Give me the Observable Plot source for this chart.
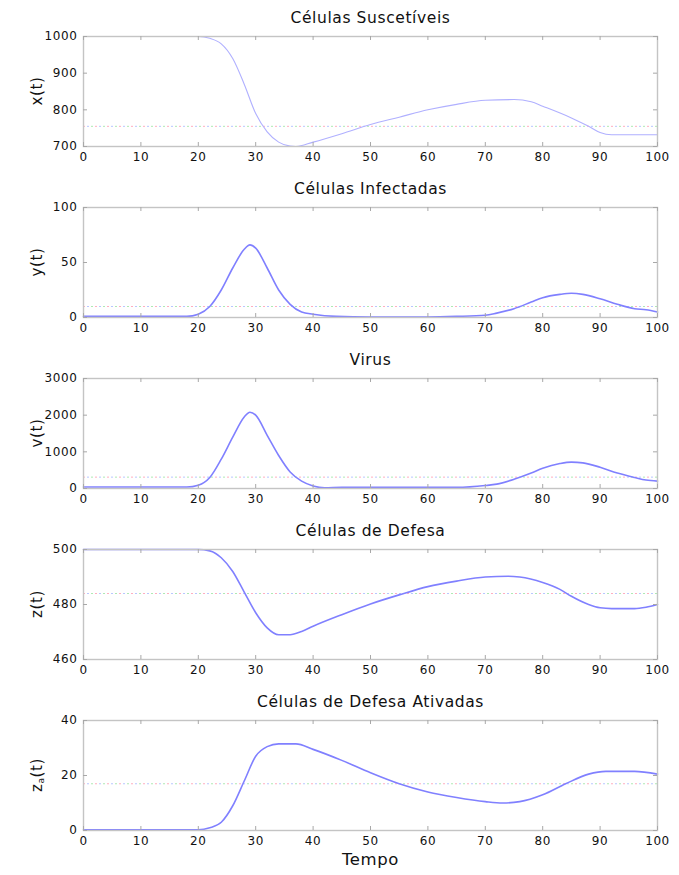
<!DOCTYPE html>
<html>
<head>
<meta charset="utf-8">
<script src="https://cdn.jsdelivr.net/npm/d3@7"></script>
<script src="https://cdn.jsdelivr.net/npm/@observablehq/plot@0.6"></script>
<style>
  html, body { margin: 0; padding: 0; background: #fff; }
  #chart svg { display: block; }
</style>
</head>
<body>
<div id="chart"></div>
<script>
// ---- Data ----
const titles = ["Células Suscetíveis", "Células Infectadas", "Virus", "Células de Defesa", "Células de Defesa Ativadas"];
const xLabel = "Tempo";
const xTicks = [0, 10, 20, 30, 40, 50, 60, 70, 80, 90, 100];

const tX = [0, 10, 20, 22, 24, 26, 28, 30, 32, 34, 36, 37, 40, 45, 50, 55, 60, 65, 70, 75, 78, 80, 85, 88, 90, 92, 100];
const xVals = [1000, 1000, 1000, 995, 980, 940, 870, 790, 740, 712, 701, 700, 712, 735, 760, 780, 800, 815, 826, 828, 822, 810, 778, 755, 738, 732, 732];
const xTicksY = [700, 800, 900, 1000];
const xEq = 755;

const tY = [0, 10, 18, 20, 22, 24, 26, 28, 29, 30, 32, 34, 36, 38, 40, 44, 50, 60, 65, 70, 72, 75, 78, 80, 83, 85, 87, 90, 93, 96, 98, 100];
const yVals = [1, 1, 1, 3, 10, 25, 45, 62, 66, 63, 45, 25, 12, 5, 3, 1, 0.5, 0.5, 1, 2, 4, 8, 14, 18, 21, 22, 21, 17, 12, 8, 7, 5];
const yTicksY = [0, 50, 100];
const yEq = 10;

const tV = [0, 10, 18, 20, 22, 24, 26, 28, 29, 30, 32, 34, 36, 38, 40, 42, 45, 50, 65, 70, 72, 75, 78, 80, 83, 85, 87, 90, 93, 96, 98, 100];
const vVals = [40, 40, 40, 90, 300, 800, 1400, 1950, 2080, 2000, 1450, 900, 450, 200, 70, 20, 30, 30, 30, 80, 120, 250, 420, 550, 680, 720, 700, 580, 420, 300, 230, 200];
const vTicksY = [0, 1000, 2000, 3000];
const vEq = 310;

const tZ = [0, 10, 20, 22, 24, 26, 28, 30, 32, 34, 36, 38, 40, 45, 50, 55, 60, 65, 70, 74, 76, 80, 83, 85, 88, 90, 92, 96, 98, 100];
const zVals = [500, 500, 500, 499.5, 497, 492, 484.5, 477, 471.5, 469, 469, 470.2, 472.1, 476.3, 480.2, 483.5, 486.5, 488.5, 490, 490.3, 490, 488, 485.5, 483, 480, 478.8, 478.5, 478.5, 479, 480];
const zTicksY = [460, 480, 500];
const zEq = 484;

const tZa = [0, 10, 20, 22, 24, 26, 28, 30, 32, 34, 37, 40, 45, 50, 55, 60, 65, 70, 73, 76, 80, 84, 88, 91, 96, 100];
const zaVals = [0.3, 0.3, 0.3, 1, 3, 9, 18, 27, 30.5, 31.5, 31.5, 29.5, 25.5, 21, 17, 14, 12, 10.5, 10, 10.5, 13, 17, 20.5, 21.5, 21.5, 20.5];
const zaTicksY = [0, 20, 40];
const zaEq = 17;

// ---- Layout ----
const W = 679, ML = 83, MR = 22, MT = 36, PH = 110;
const FONT = "DejaVu Sans, sans-serif";

function panel(i, t, vals, yTicks, eq, yLabelParts, opts = {}) {
  const last = opts.last || false;
  const MB = last ? 45 : 25;
  const H = MT + PH + MB;
  const rows = t.map((d, k) => ({t: d, v: vals[k]}));
  const PW = W - ML - MR;
  const lineStroke = opts.stroke || "#8080ff";
  const lineWidth = opts.strokeWidth || 1.6;
  const marks = [
    // equilibrium dash-dot line (multicoloured as in the reference)
    Plot.ruleY([eq], {y: d => d, stroke: "#ff9ab0", strokeWidth: 1, strokeDasharray: "2,10", strokeDashoffset: 0, strokeOpacity: 0.8}),
    Plot.ruleY([eq], {y: d => d, stroke: "#9be3a0", strokeWidth: 1, strokeDasharray: "2,10", strokeDashoffset: 4, strokeOpacity: 0.8}),
    Plot.ruleY([eq], {y: d => d, stroke: "#a6b8ff", strokeWidth: 1, strokeDasharray: "2,10", strokeDashoffset: 8, strokeOpacity: 0.8}),
    Plot.line(rows, {x: "t", y: "v", stroke: lineStroke, strokeWidth: lineWidth, curve: "monotone-x"}),
    Plot.frame({stroke: "#c4c4c4", strokeWidth: 1.4}),
    // inward ticks (MATLAB style)
    Plot.ruleX(xTicks, {x: d => d, stroke: "#a8a8a8", insetBottom: PH - 4}),
    Plot.ruleX(xTicks, {x: d => d, stroke: "#a8a8a8", insetTop: PH - 4}),
    Plot.ruleY(yTicks, {y: d => d, stroke: "#a8a8a8", insetRight: PW - 4}),
    Plot.ruleY(yTicks, {y: d => d, stroke: "#a8a8a8", insetLeft: PW - 4}),
    Plot.axisX(xTicks, {tickSize: 0, tickPadding: 6, label: null, fontSize: 12, fill: "#111", tickFormat: d3.format("d")}),
    Plot.axisY(yTicks, {tickSize: 0, tickPadding: 6, label: null, fontSize: 12, fill: "#111", tickFormat: d3.format("d")}),
    Plot.text([titles[i]], {frameAnchor: "top", dy: -18, fontSize: 15.5, fill: "#111", lineAnchor: "middle"})
  ];
  if (last) {
    marks.push(Plot.text([xLabel], {frameAnchor: "bottom", dy: 29, fontSize: 16.5, fill: "#111", lineAnchor: "middle"}));
  }
  const svg = Plot.plot({
    width: W, height: H,
    marginTop: MT, marginBottom: MB, marginLeft: ML, marginRight: MR,
    style: {fontFamily: FONT, background: "#fff", color: "#111", overflow: "visible"},
    x: {domain: [0, 100]},
    y: {domain: [yTicks[0], yTicks[yTicks.length - 1]]},
    marks
  });
  // rotated y label (with optional subscript)
  const lbl = d3.select(svg).append("text")
    .attr("transform", `translate(${ML - 46},${MT + PH / 2}) rotate(-90)`)
    .attr("text-anchor", "middle")
    .attr("dominant-baseline", "middle")
    .attr("font-family", FONT)
    .attr("font-size", 15)
    .attr("fill", "#111");
  lbl.append("tspan").text(yLabelParts[0]);
  if (yLabelParts.length > 1) {
    lbl.append("tspan").attr("font-size", 9).attr("dy", 4).text(yLabelParts[1]);
    lbl.append("tspan").attr("dy", -4).text(yLabelParts[2]);
  }
  d3.select(svg).selectAll("text").style("letter-spacing", "0.6px");
  return svg;
}

const chart = document.getElementById("chart");
chart.append(panel(0, tX, xVals, xTicksY, xEq, ["x(t)"], {stroke: "#b0b0ff", strokeWidth: 1.1}));
chart.append(panel(1, tY, yVals, yTicksY, yEq, ["y(t)"]));
chart.append(panel(2, tV, vVals, vTicksY, vEq, ["v(t)"]));
chart.append(panel(3, tZ, zVals, zTicksY, zEq, ["z(t)"]));
chart.append(panel(4, tZa, zaVals, zaTicksY, zaEq, ["z", "a", "(t)"], {last: true}));
</script>
</body>
</html>
